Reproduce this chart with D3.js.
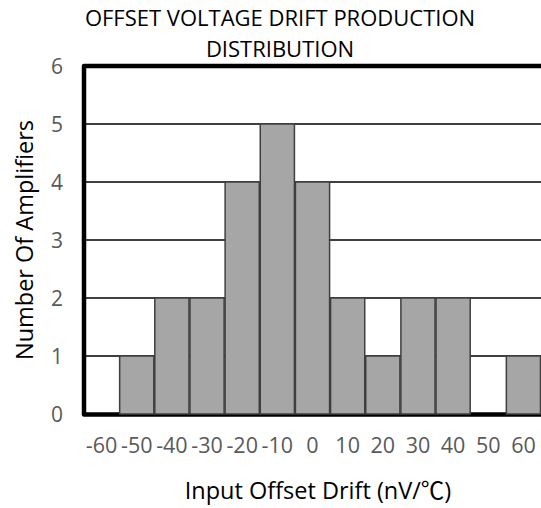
<!DOCTYPE html>
<html><head><meta charset="utf-8">
<script src="https://cdn.jsdelivr.net/npm/d3@7"></script>
<style>body{margin:0;background:#fff;} svg{display:block;font-family:"Open Sans","Noto Sans CJK SC",sans-serif;}</style>
</head><body>
<svg id="c" width="541" height="508"></svg>
<script>
const categories = ["-60","-50","-40","-30","-20","-10","0","10","20","30","40","50","60"];
const counts = [0,1,2,2,4,5,4,2,1,2,2,0,1];
const yTicks = [0,1,2,3,4,5,6];
const titleLines = ["OFFSET VOLTAGE DRIFT PRODUCTION","DISTRIBUTION"];
const xTitleParts = ["Input Offset Drift (nV/", "\u2103", ")"];
const yTitle = "Number Of Amplifiers";

const FONT = "'Open Sans','Noto Sans CJK SC',sans-serif";
const svg = d3.select("#c");
const m = {left:84, right:541, top:66, bottom:414};
const x = d3.scaleBand().domain(categories).range([m.left, m.right]).padding(0);
const y = d3.scaleLinear().domain([0,6]).range([m.bottom, m.top]);

// gridlines
svg.append("g").selectAll("line").data(yTicks.filter(d=>d>0&&d<6)).join("line")
  .attr("x1",m.left).attr("x2",m.right)
  .attr("y1",d=>y(d)).attr("y2",d=>y(d))
  .attr("stroke","#000").attr("stroke-width",1.5);

// frame
svg.append("path")
  .attr("d",`M${m.right+3},${m.top}H${m.left}V${m.bottom+0.5}H${m.right+3}`)
  .attr("fill","none").attr("stroke","#000").attr("stroke-width",4.5)
  .attr("stroke-linejoin","round");

// bars
svg.append("g").selectAll("rect").data(counts).join("rect")
  .attr("x",(d,i)=>x(categories[i])+0.5)
  .attr("width",x.bandwidth()-1)
  .attr("y",d=>y(d))
  .attr("height",d=>y(0)-y(d))
  .attr("fill","#a6a6a6").attr("stroke","#3f3f3f").attr("stroke-width",1.5);

// y axis labels
const yAxis = d3.axisLeft(y).tickValues(yTicks).tickFormat(d3.format("d")).tickSize(0).tickPadding(0);
const gy = svg.append("g").attr("transform",`translate(63,0)`).call(yAxis);
gy.select(".domain").remove();
gy.selectAll("text").attr("fill","#595959").attr("dy","0.36em")
  .style("font-size","21px").style("font-family",FONT).attr("text-anchor","end");

// x axis labels
const xAxis = d3.axisBottom(x).tickSize(0).tickPadding(0);
const gx = svg.append("g").attr("transform",`translate(0,${453})`).call(xAxis);
gx.select(".domain").remove();
gx.selectAll("text").attr("fill","#595959").attr("dy",0)
  .style("font-size","21.5px").style("font-family",FONT);

// titles
svg.append("g").selectAll("text").data(titleLines).join("text")
  .attr("x",280).attr("y",(d,i)=>26+i*31)
  .attr("text-anchor","middle").attr("fill","#000").style("font-size","22px")
  .text(d=>d);

const xt = svg.append("text").attr("x",318).attr("y",499).attr("text-anchor","middle")
  .attr("fill","#000").style("font-size","23.5px");
xt.selectAll("tspan").data(xTitleParts).join("tspan")
  .style("font-family",(d,i)=>i===1?"'Noto Sans CJK SC',sans-serif":FONT)
  .text(d=>d);

svg.append("text").attr("transform",`translate(33,240) rotate(-90)`)
  .attr("text-anchor","middle").attr("fill","#000").style("font-size","23.5px").text(yTitle);
</script>
</body></html>
